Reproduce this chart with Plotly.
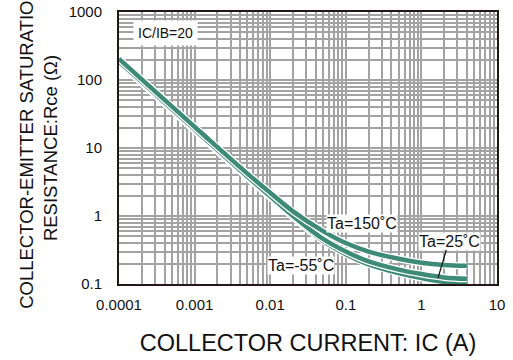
import plotly.graph_objects as go

# Data
ic = [0.0001, 0.0002, 0.0005, 0.001, 0.002, 0.005, 0.01, 0.02, 0.05, 0.1, 0.2, 0.5, 1, 2, 4]
rce_150 = [205, 102, 41, 20.5, 10.3, 4.2, 2.2, 1.17, 0.6, 0.4, 0.3, 0.235, 0.205, 0.19, 0.185]
rce_25 = [188, 94, 37.5, 18.8, 9.4, 3.8, 1.95, 1.0, 0.46, 0.3, 0.215, 0.163, 0.14, 0.125, 0.119]
rce_m55 = [180, 90, 36, 18, 9.0, 3.65, 1.88, 0.96, 0.43, 0.275, 0.195, 0.145, 0.122, 0.107, 0.1]

x_ticks = [0.0001, 0.001, 0.01, 0.1, 1, 10]
x_ticktext = ["0.0001", "0.001", "0.01", "0.1", "1", "10"]
y_ticks = [0.1, 1, 10, 100, 1000]
y_ticktext = ["0.1", "1", "10", "100", "1000"]

GREEN = "#3d8b77"
GRID = "#a3a3a3"
FRAME = "#231815"
FONT = "Liberation Sans, Arial, sans-serif"

fig = go.Figure()
for r in [rce_m55, rce_25, rce_150]:
    fig.add_trace(go.Scatter(x=ic, y=r, mode="lines", line=dict(color="white", width=7, shape="spline"),
                             hoverinfo="skip", showlegend=False))
    fig.add_trace(go.Scatter(x=ic, y=r, mode="lines", line=dict(color=GREEN, width=4.5, shape="spline"),
                             showlegend=False))

minor_x = [m * 10 ** e for e in range(-4, 1) for m in range(2, 10)]
minor_y = [m * 10 ** e for e in range(-1, 3) for m in range(2, 10)]

fig.update_xaxes(type="log", range=[-4, 1], tickvals=x_ticks, ticktext=x_ticktext,
                 showgrid=True, gridcolor=GRID, gridwidth=2,
                 minor=dict(tickvals=minor_x, showgrid=True, gridcolor=GRID, gridwidth=2, ticks=""),
                 showline=True, mirror=True, linecolor=FRAME, linewidth=2, ticks="",
                 tickfont=dict(size=15, color="#111"), ticklabelstandoff=6, zeroline=False,
                 title=dict(text="COLLECTOR CURRENT: IC (A)", font=dict(size=23.5, color="#111"), standoff=23),
                 automargin=False)
fig.update_yaxes(type="log", range=[-1, 3], tickvals=y_ticks, ticktext=y_ticktext,
                 showgrid=True, gridcolor=GRID, gridwidth=2,
                 minor=dict(tickvals=minor_y, showgrid=True, gridcolor=GRID, gridwidth=2, ticks=""),
                 showline=True, mirror=True, linecolor=FRAME, linewidth=2, ticks="",
                 tickfont=dict(size=15, color="#111"), ticklabelstandoff=12, zeroline=False,
                 title=dict(text="COLLECTOR-EMITTER SATURATION<br>RESISTANCE:Rce (Ω)",
                            font=dict(size=18.5, color="#111"), standoff=6),
                 automargin=False)

ann_font = dict(family=FONT, size=14, color="#111")
lab_font = dict(family=FONT, size=16, color="#111")
fig.add_annotation(xref="paper", yref="paper", x=(165 - 119) / 378, y=(284 - 33) / 272, text="IC/IB=20",
                   xanchor="center", yanchor="middle",
                   showarrow=False, bgcolor="white", font=ann_font, borderpad=4)
fig.add_annotation(xref="paper", yref="paper", x=(362 - 119) / 378, y=(284 - 223) / 272, text="Ta=150˚C",
                   xanchor="center", yanchor="middle",
                   showarrow=False, bgcolor="white", font=lab_font, borderpad=0)
fig.add_annotation(xref="paper", yref="paper", x=(301 - 119) / 378, y=(284 - 265) / 272, text="Ta=-55˚C",
                   xanchor="center", yanchor="middle",
                   showarrow=False, bgcolor="white", font=lab_font, borderpad=0)
fig.add_annotation(xref="paper", yref="paper", x=(438 - 119) / 378, y=(284 - 278) / 272, text="Ta=25˚C",
                   showarrow=True, arrowhead=0, arrowwidth=1.2, arrowcolor="#111", ax=11, ay=-37,
                   bgcolor="white", font=lab_font, borderpad=0)

fig.update_layout(width=513, height=360, margin=dict(l=119, r=16, t=12, b=76),
                  paper_bgcolor="white", plot_bgcolor="white",
                  font=dict(family=FONT, color="#111"))

fig.write_html("out.html", config={"displayModeBar": False},
               post_script="document.body.style.margin='0';")
